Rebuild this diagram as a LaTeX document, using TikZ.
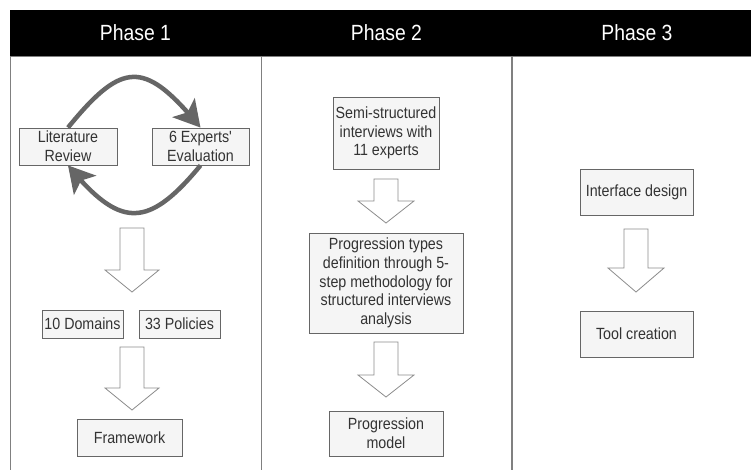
\documentclass[tikz,border=0pt]{standalone}
\usepackage{fontspec}
\setmainfont{Liberation Sans}
\newfontfamily\narrowsans[FakeStretch=0.88]{Liberation Sans}
\usetikzlibrary{arrows.meta,bending}
\definecolor{boxfill}{HTML}{F5F5F5}
\definecolor{boxline}{HTML}{666666}
\definecolor{txt}{HTML}{333333}
\definecolor{cyc}{HTML}{666666}
\definecolor{divider}{HTML}{808080}
\definecolor{arrline}{HTML}{8C8C8C}
\begin{document}
\begin{tikzpicture}[x=1pt,y=-1pt,
  box/.style={draw=boxline, fill=boxfill, line width=0.8pt, text=txt,
    font=\narrowsans\fontsize{16.2}{18.7}\selectfont, align=center, inner sep=0pt},
  blockarrow/.style={draw=arrline, fill=white, line width=0.8pt, line join=miter},
  cyclearrow/.style={draw=cyc, line width=4.5pt,
    -{Stealth[length=26pt,width=29pt,inset=6pt,flex]}},
  header/.style={text=white, font=\narrowsans\fontsize{22}{26}\selectfont},
  divline/.style={draw=divider, line width=1pt}]
\useasboundingbox (0,0) rectangle (751,470);
\fill[white] (0,0) rectangle (751,470);
% header
\fill[black] (10,10) rectangle (751,56);
\draw[divider, line width=0.8pt] (10,56.4) -- (751,56.4);
\node[header] (h1) at (135.5,33) {Phase 1};
\node[header] (h2) at (386.5,33) {Phase 2};
\node[header] (h3) at (637,33) {Phase 3};
% column lines
\draw[divline] (10.5,56) -- (10.5,470);
\draw[divline] (261,56) -- (261,470);
\draw[divline, line width=1.6pt] (512,56) -- (512,470);

% Phase 1
\node[box, minimum width=98pt, minimum height=37pt] (lit) at (68,146.5) {Literature\\Review};
\node[box, minimum width=97pt, minimum height=37pt] (exp) at (200.5,146.5) {6 Experts'\\Evaluation};
\draw[cyclearrow] (lit.north) .. controls (123,60) and (145,60) .. (exp.north);
\draw[cyclearrow] (exp.south) .. controls (148,229) and (120,229) .. (lit.south);

\draw[blockarrow] (120,228) -- (144,228) -- (144,270) -- (159,270) -- (132,292) -- (105,270) -- (120,270) -- cycle;
\node[box, minimum width=81pt, minimum height=28pt] (dom) at (82.5,324) {10 Domains};
\node[box, minimum width=81pt, minimum height=28pt] (pol) at (179.5,324) {33 Policies};
\draw[blockarrow] (120,347) -- (144,347) -- (144,388) -- (159,388) -- (132,410) -- (105,388) -- (120,388) -- cycle;
\node[box, minimum width=105pt, minimum height=37pt] (fw) at (129.5,437.5) {Framework};

% Phase 2
\node[box, minimum width=106pt, minimum height=72pt] (semi) at (386,133) {Semi-structured\\interviews with\\11 experts};
\draw[blockarrow] (374,179) -- (398,179) -- (398,201) -- (414,201) -- (386,223) -- (358,201) -- (374,201) -- cycle;
\node[box, minimum width=154pt, minimum height=100pt] (ptd) at (386,283) {Progression types\\definition through 5-\\step methodology for\\structured interviews\\analysis};
\draw[blockarrow] (374,342) -- (398,342) -- (398,375) -- (414,375) -- (386,397) -- (358,375) -- (374,375) -- cycle;
\node[box, minimum width=114pt, minimum height=45pt] (pm) at (386,433.5) {Progression\\model};

% Phase 3
\node[box, minimum width=113pt, minimum height=46pt] (ifd) at (636.5,192) {Interface design};
\draw[blockarrow] (624,229) -- (648,229) -- (648,268) -- (664,268) -- (636,292) -- (608,268) -- (624,268) -- cycle;
\node[box, minimum width=113pt, minimum height=46pt] (tc) at (636.5,334) {Tool creation};
\end{tikzpicture}
\end{document}
